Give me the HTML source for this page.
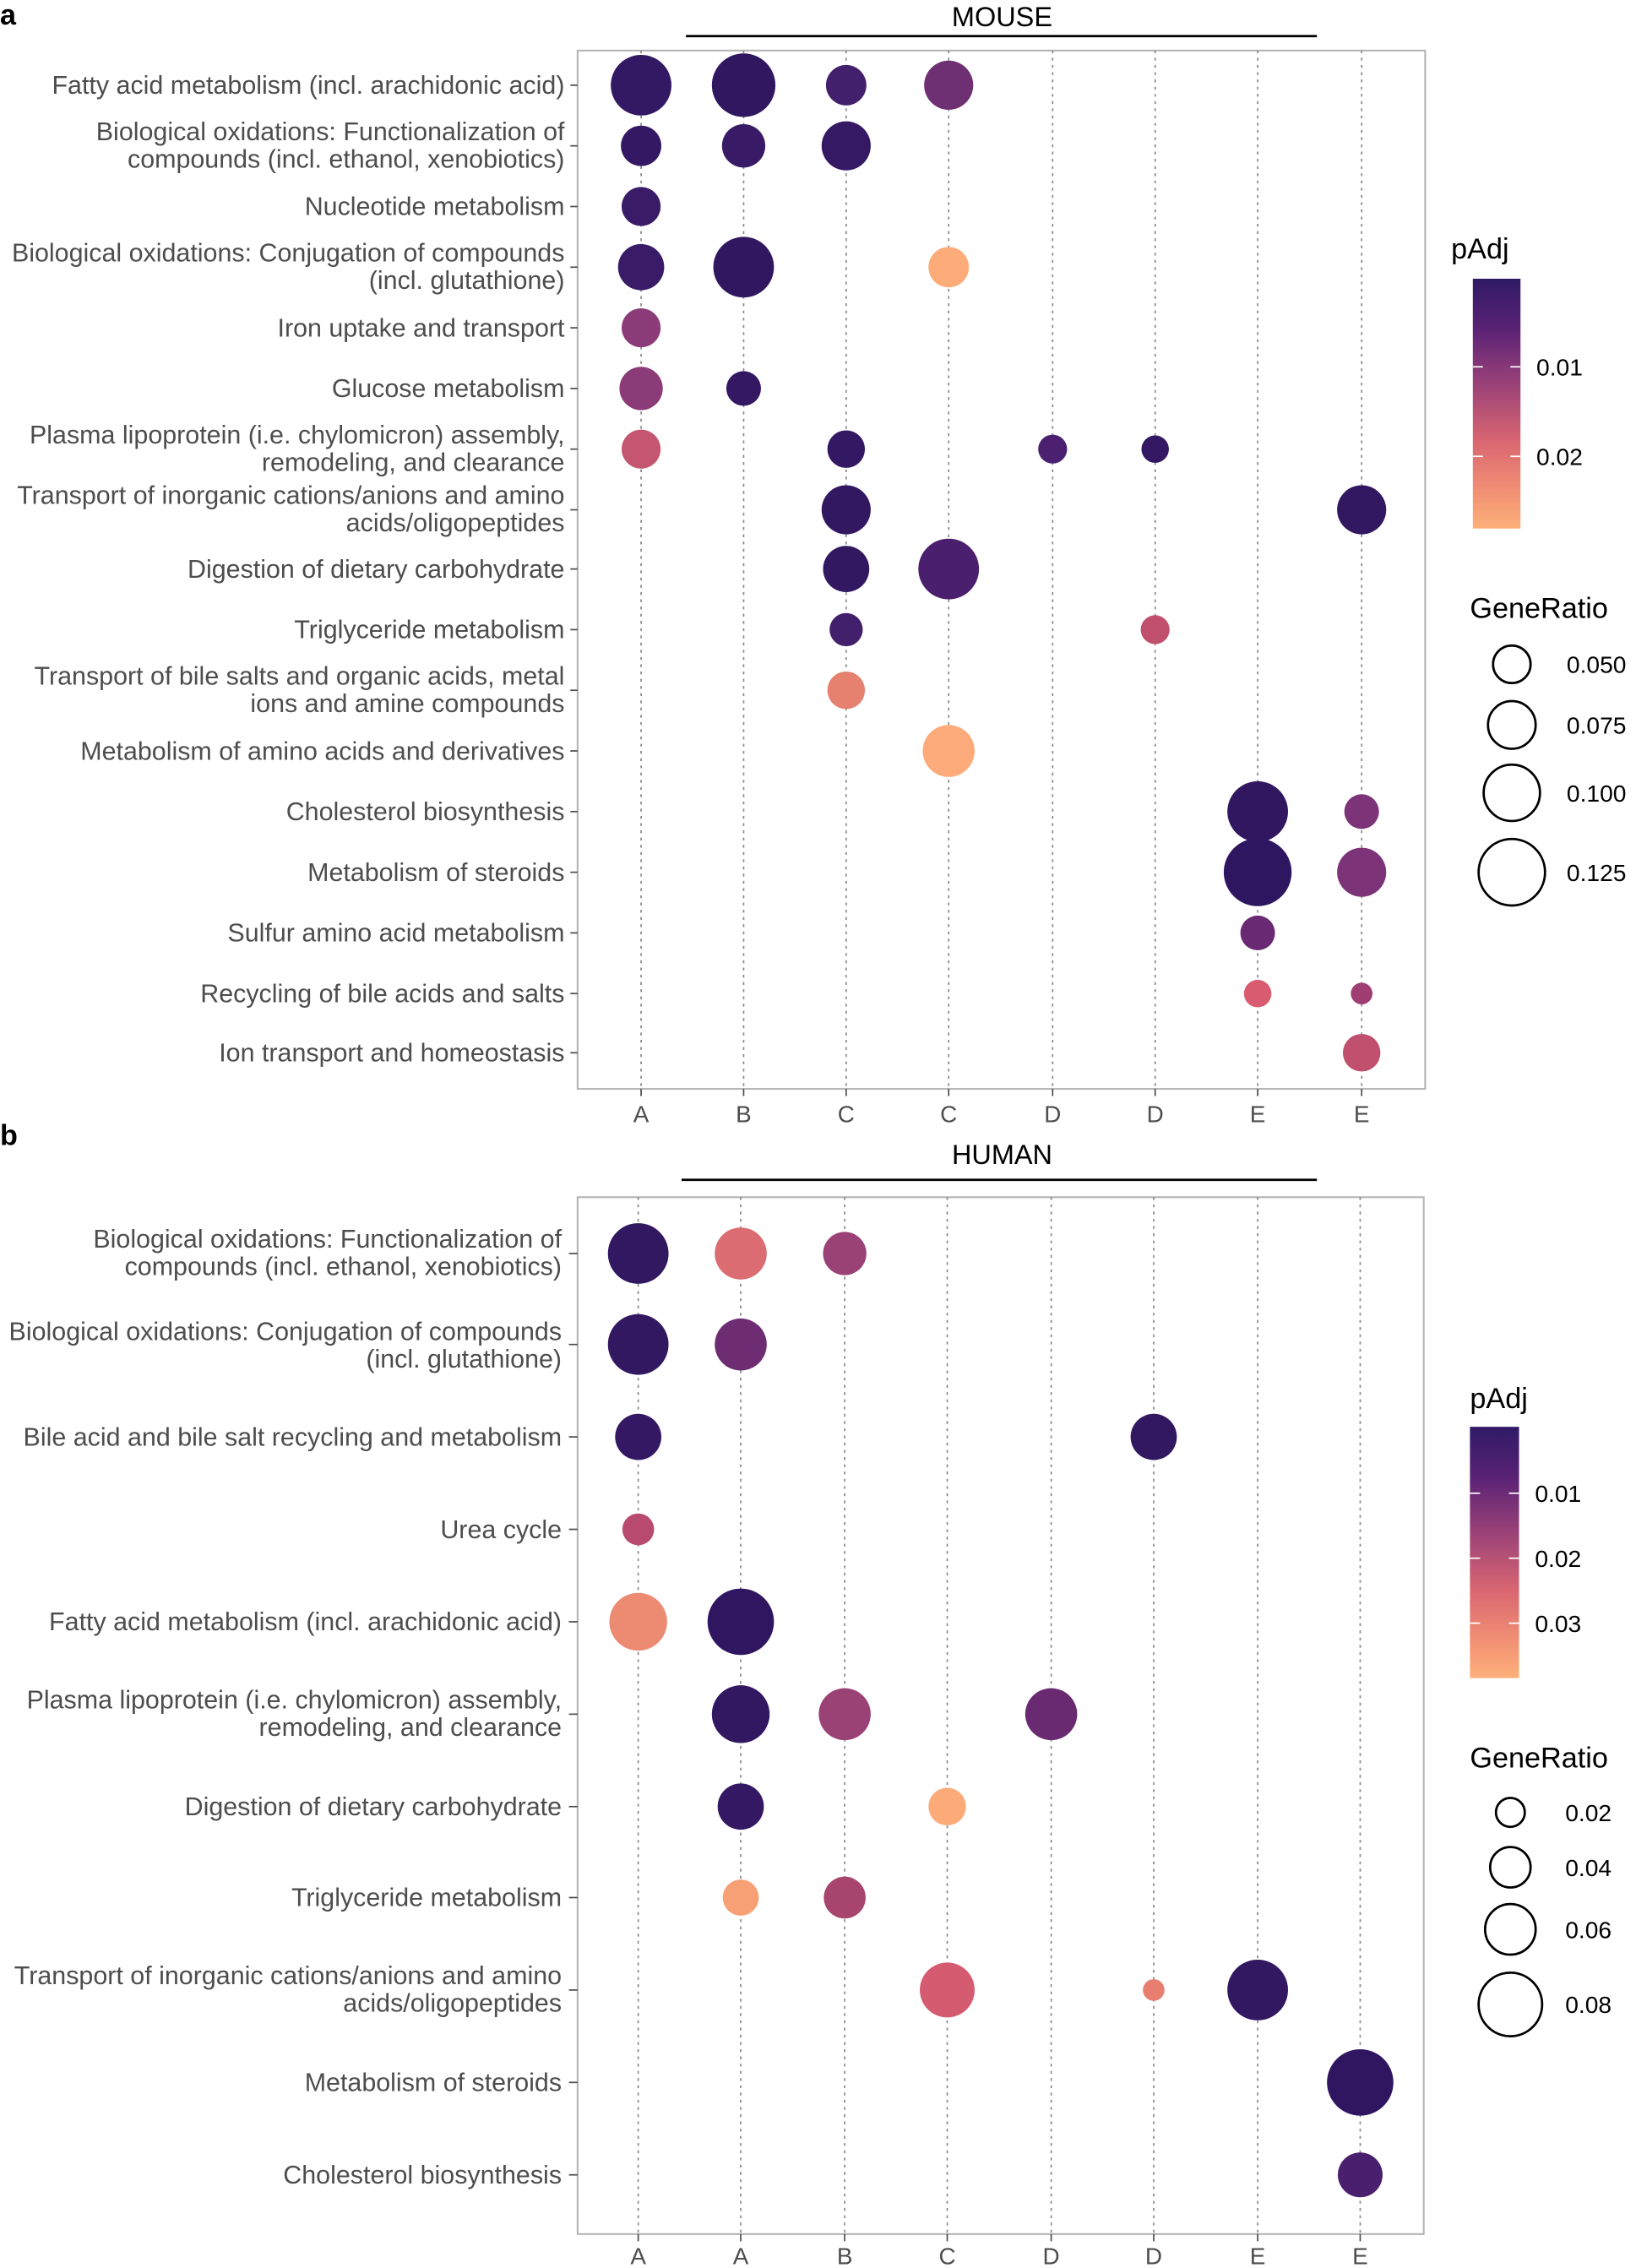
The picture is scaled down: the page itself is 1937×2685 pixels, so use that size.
<!DOCTYPE html>
<html><head><meta charset="utf-8"><style>
html,body{margin:0;padding:0;background:#fff;}
svg{display:block;}
text{font-family:"Liberation Sans",sans-serif;}
.lab{font-size:17.8px;fill:#4d4d4d;text-anchor:end;}
.tick{font-size:16.3px;fill:#4d4d4d;text-anchor:middle;}
.leg{font-size:16.5px;fill:#000;}
.lt{font-size:20px;fill:#000;}
.grid{stroke:#8a8a8a;stroke-width:1;stroke-dasharray:2,3;}
</style></head><body>
<svg width="1937" height="2685" viewBox="0 0 1133 1570.5" preserveAspectRatio="none" xmlns="http://www.w3.org/2000/svg">
<defs>
<linearGradient id="mg" x1="0" y1="0" x2="0" y2="1">
<stop offset="0" stop-color="#2f1a66"/>
<stop offset="0.2" stop-color="#5a2275"/>
<stop offset="0.42" stop-color="#9a4178"/>
<stop offset="0.65" stop-color="#d96671"/>
<stop offset="0.85" stop-color="#f19074"/>
<stop offset="1" stop-color="#fdb07a"/>
</linearGradient>
</defs>
<rect width="1133" height="1571" fill="#fff"/>

<!-- ===== Panel a ===== -->
<text x="0" y="17" style="font-size:20px;font-weight:bold">a</text>
<text x="694" y="18" text-anchor="middle" style="font-size:19px;fill:#000">MOUSE</text>
<line x1="475" y1="25" x2="912" y2="25" stroke="#000" stroke-width="1.6"/>
<rect x="400" y="35" width="587" height="719" fill="none" stroke="#b3b3b3" stroke-width="1.2"/>
<g class="grid">
<line x1="444" y1="35" x2="444" y2="754"/><line x1="515" y1="35" x2="515" y2="754"/>
<line x1="586" y1="35" x2="586" y2="754"/><line x1="657" y1="35" x2="657" y2="754"/>
<line x1="729" y1="35" x2="729" y2="754"/><line x1="800" y1="35" x2="800" y2="754"/>
<line x1="871" y1="35" x2="871" y2="754"/><line x1="943" y1="35" x2="943" y2="754"/>
</g>
<g stroke="#4d4d4d" stroke-width="1">
<line x1="395" y1="59" x2="400" y2="59"/><line x1="395" y1="101" x2="400" y2="101"/><line x1="395" y1="143" x2="400" y2="143"/>
<line x1="395" y1="185" x2="400" y2="185"/><line x1="395" y1="227" x2="400" y2="227"/><line x1="395" y1="269" x2="400" y2="269"/>
<line x1="395" y1="311" x2="400" y2="311"/><line x1="395" y1="353" x2="400" y2="353"/><line x1="395" y1="394" x2="400" y2="394"/>
<line x1="395" y1="436" x2="400" y2="436"/><line x1="395" y1="478" x2="400" y2="478"/><line x1="395" y1="520" x2="400" y2="520"/>
<line x1="395" y1="562" x2="400" y2="562"/><line x1="395" y1="604" x2="400" y2="604"/><line x1="395" y1="646" x2="400" y2="646"/>
<line x1="395" y1="688" x2="400" y2="688"/><line x1="395" y1="729" x2="400" y2="729"/>
<line x1="444" y1="754" x2="444" y2="759"/><line x1="515" y1="754" x2="515" y2="759"/><line x1="586" y1="754" x2="586" y2="759"/>
<line x1="657" y1="754" x2="657" y2="759"/><line x1="729" y1="754" x2="729" y2="759"/><line x1="800" y1="754" x2="800" y2="759"/>
<line x1="871" y1="754" x2="871" y2="759"/><line x1="943" y1="754" x2="943" y2="759"/>
</g>
<g class="lab">
<text x="391" y="65">Fatty acid metabolism (incl. arachidonic acid)</text>
<text x="391" y="97">Biological oxidations: Functionalization of</text>
<text x="391" y="116">compounds (incl. ethanol, xenobiotics)</text>
<text x="391" y="149">Nucleotide metabolism</text>
<text x="391" y="181">Biological oxidations: Conjugation of compounds</text>
<text x="391" y="200">(incl. glutathione)</text>
<text x="391" y="233">Iron uptake and transport</text>
<text x="391" y="275">Glucose metabolism</text>
<text x="391" y="307">Plasma lipoprotein (i.e. chylomicron) assembly,</text>
<text x="391" y="326">remodeling, and clearance</text>
<text x="391" y="349">Transport of inorganic cations/anions and amino</text>
<text x="391" y="368">acids/oligopeptides</text>
<text x="391" y="400">Digestion of dietary carbohydrate</text>
<text x="391" y="442">Triglyceride metabolism</text>
<text x="391" y="474">Transport of bile salts and organic acids, metal</text>
<text x="391" y="493">ions and amine compounds</text>
<text x="391" y="526">Metabolism of amino acids and derivatives</text>
<text x="391" y="568">Cholesterol biosynthesis</text>
<text x="391" y="610">Metabolism of steroids</text>
<text x="391" y="652">Sulfur amino acid metabolism</text>
<text x="391" y="694">Recycling of bile acids and salts</text>
<text x="391" y="735">Ion transport and homeostasis</text>
</g>
<g class="tick">
<text x="444" y="777">A</text><text x="515" y="777">B</text><text x="586" y="777">C</text><text x="657" y="777">C</text>
<text x="729" y="777">D</text><text x="800" y="777">D</text><text x="871" y="777">E</text><text x="943" y="777">E</text>
</g>
<g>
<circle cx="444" cy="59" r="21" fill="#331863"/><circle cx="515" cy="59" r="22" fill="#311760"/>
<circle cx="586" cy="59" r="14" fill="#43206c"/><circle cx="657" cy="59" r="17" fill="#6e2f73"/>
<circle cx="444" cy="101" r="14" fill="#341863"/><circle cx="515" cy="101" r="15" fill="#381a66"/><circle cx="586" cy="101" r="17" fill="#361965"/>
<circle cx="444" cy="143" r="13.5" fill="#3a1b67"/>
<circle cx="444" cy="185" r="16" fill="#3a1b67"/><circle cx="515" cy="185" r="21" fill="#301760"/><circle cx="657" cy="185" r="14" fill="#fcab79"/>
<circle cx="444" cy="227" r="13.5" fill="#8b3b78"/>
<circle cx="444" cy="269" r="15" fill="#8b3b78"/><circle cx="515" cy="269" r="12" fill="#341863"/>
<circle cx="444" cy="311" r="13.5" fill="#c4566f"/><circle cx="586" cy="311" r="13" fill="#341863"/>
<circle cx="729" cy="311" r="10" fill="#4b2070"/><circle cx="800" cy="311" r="9.5" fill="#351864"/>
<circle cx="586" cy="353" r="17" fill="#321761"/><circle cx="943" cy="353" r="17" fill="#321761"/>
<circle cx="586" cy="394" r="16" fill="#321761"/><circle cx="657" cy="394" r="21" fill="#4a1f6e"/>
<circle cx="586" cy="436" r="11.5" fill="#43206c"/><circle cx="800" cy="436" r="10" fill="#c0506e"/>
<circle cx="586" cy="478" r="13" fill="#e6806f"/>
<circle cx="657" cy="520" r="18" fill="#fdab7a"/>
<circle cx="871" cy="562" r="21" fill="#311760"/><circle cx="943" cy="562" r="12" fill="#7d3377"/>
<circle cx="871" cy="604" r="23.5" fill="#2f1660"/><circle cx="943" cy="604" r="17" fill="#7d3377"/>
<circle cx="871" cy="646" r="12" fill="#6a2a73"/>
<circle cx="871" cy="688" r="9.5" fill="#d95b70"/><circle cx="943" cy="688" r="7.5" fill="#a03d72"/>
<circle cx="943" cy="729" r="13" fill="#c0506e"/>
</g>
<text x="1005" y="179" class="lt">pAdj</text>
<rect x="1020" y="193" width="33" height="173" fill="url(#mg)"/>
<g stroke="#fff" stroke-width="1"><line x1="1020" y1="254" x2="1027" y2="254"/><line x1="1046" y1="254" x2="1053" y2="254"/>
<line x1="1020" y1="316" x2="1027" y2="316"/><line x1="1046" y1="316" x2="1053" y2="316"/></g>
<text x="1064" y="260" class="leg">0.01</text><text x="1064" y="322" class="leg">0.02</text>
<text x="1018" y="428" class="lt">GeneRatio</text>
<g fill="none" stroke="#000" stroke-width="1.6">
<circle cx="1047" cy="460" r="13"/><circle cx="1047" cy="502" r="16.5"/><circle cx="1047" cy="549" r="19.5"/><circle cx="1047" cy="604" r="23"/></g>
<text x="1085" y="466" class="leg">0.050</text><text x="1085" y="508" class="leg">0.075</text>
<text x="1085" y="555" class="leg">0.100</text><text x="1085" y="610" class="leg">0.125</text>

<!-- ===== Panel b ===== -->
<text x="0" y="793" style="font-size:20px;font-weight:bold">b</text>
<text x="694" y="806" text-anchor="middle" style="font-size:19px;fill:#000">HUMAN</text>
<line x1="472" y1="817" x2="912" y2="817" stroke="#000" stroke-width="1.6"/>
<rect x="400" y="829" width="586" height="718" fill="none" stroke="#b3b3b3" stroke-width="1.2"/>
<g class="grid">
<line x1="442" y1="829" x2="442" y2="1547"/><line x1="513" y1="829" x2="513" y2="1547"/>
<line x1="585" y1="829" x2="585" y2="1547"/><line x1="656" y1="829" x2="656" y2="1547"/>
<line x1="728" y1="829" x2="728" y2="1547"/><line x1="799" y1="829" x2="799" y2="1547"/>
<line x1="871" y1="829" x2="871" y2="1547"/><line x1="942" y1="829" x2="942" y2="1547"/>
</g>
<g stroke="#4d4d4d" stroke-width="1">
<line x1="394" y1="868" x2="400" y2="868"/><line x1="394" y1="931" x2="400" y2="931"/><line x1="394" y1="995" x2="400" y2="995"/>
<line x1="394" y1="1059" x2="400" y2="1059"/><line x1="394" y1="1123" x2="400" y2="1123"/><line x1="394" y1="1187" x2="400" y2="1187"/>
<line x1="394" y1="1251" x2="400" y2="1251"/><line x1="394" y1="1314" x2="400" y2="1314"/><line x1="394" y1="1378" x2="400" y2="1378"/>
<line x1="394" y1="1442" x2="400" y2="1442"/><line x1="394" y1="1506" x2="400" y2="1506"/>
<line x1="442" y1="1547" x2="442" y2="1552"/><line x1="513" y1="1547" x2="513" y2="1552"/><line x1="585" y1="1547" x2="585" y2="1552"/>
<line x1="656" y1="1547" x2="656" y2="1552"/><line x1="728" y1="1547" x2="728" y2="1552"/><line x1="799" y1="1547" x2="799" y2="1552"/>
<line x1="871" y1="1547" x2="871" y2="1552"/><line x1="942" y1="1547" x2="942" y2="1552"/>
</g>
<g class="lab">
<text x="389" y="864">Biological oxidations: Functionalization of</text>
<text x="389" y="883">compounds (incl. ethanol, xenobiotics)</text>
<text x="389" y="928">Biological oxidations: Conjugation of compounds</text>
<text x="389" y="947">(incl. glutathione)</text>
<text x="389" y="1001">Bile acid and bile salt recycling and metabolism</text>
<text x="389" y="1065">Urea cycle</text>
<text x="389" y="1129">Fatty acid metabolism (incl. arachidonic acid)</text>
<text x="389" y="1183">Plasma lipoprotein (i.e. chylomicron) assembly,</text>
<text x="389" y="1202">remodeling, and clearance</text>
<text x="389" y="1257">Digestion of dietary carbohydrate</text>
<text x="389" y="1320">Triglyceride metabolism</text>
<text x="389" y="1374">Transport of inorganic cations/anions and amino</text>
<text x="389" y="1393">acids/oligopeptides</text>
<text x="389" y="1448">Metabolism of steroids</text>
<text x="389" y="1512">Cholesterol biosynthesis</text>
</g>
<g class="tick">
<text x="442" y="1568">A</text><text x="513" y="1568">A</text><text x="585" y="1568">B</text><text x="656" y="1568">C</text>
<text x="728" y="1568">D</text><text x="799" y="1568">D</text><text x="871" y="1568">E</text><text x="942" y="1568">E</text>
</g>
<g>
<circle cx="442" cy="868" r="21" fill="#321761"/><circle cx="513" cy="868" r="18" fill="#da6c72"/><circle cx="585" cy="868" r="15" fill="#9a4175"/>
<circle cx="442" cy="931" r="21" fill="#321761"/><circle cx="513" cy="931" r="18" fill="#6e2d73"/>
<circle cx="442" cy="995" r="16" fill="#341863"/><circle cx="799" cy="995" r="16" fill="#321761"/>
<circle cx="442" cy="1059" r="11" fill="#b84a70"/>
<circle cx="442" cy="1123" r="20" fill="#ec8a72"/><circle cx="513" cy="1123" r="23" fill="#301660"/>
<circle cx="513" cy="1187" r="20" fill="#321761"/><circle cx="585" cy="1187" r="18" fill="#9a4175"/><circle cx="728" cy="1187" r="18" fill="#6a2a72"/>
<circle cx="513" cy="1251" r="16" fill="#341863"/><circle cx="656" cy="1251" r="13" fill="#fcaa78"/>
<circle cx="513" cy="1314" r="12.5" fill="#f8a075"/><circle cx="585" cy="1314" r="14.5" fill="#a8456f"/>
<circle cx="656" cy="1378" r="19" fill="#d45b70"/><circle cx="799" cy="1378" r="7.5" fill="#e77e6f"/><circle cx="871" cy="1378" r="21" fill="#321761"/>
<circle cx="942" cy="1442" r="23" fill="#301660"/>
<circle cx="942" cy="1506" r="15.5" fill="#4a1f6e"/>
</g>
<text x="1018" y="975" class="lt">pAdj</text>
<rect x="1018" y="988" width="34" height="174" fill="url(#mg)"/>
<g stroke="#fff" stroke-width="1"><line x1="1018" y1="1034" x2="1025" y2="1034"/><line x1="1045" y1="1034" x2="1052" y2="1034"/>
<line x1="1018" y1="1079" x2="1025" y2="1079"/><line x1="1045" y1="1079" x2="1052" y2="1079"/>
<line x1="1018" y1="1124" x2="1025" y2="1124"/><line x1="1045" y1="1124" x2="1052" y2="1124"/></g>
<text x="1063" y="1040" class="leg">0.01</text><text x="1063" y="1085" class="leg">0.02</text><text x="1063" y="1130" class="leg">0.03</text>
<text x="1018" y="1224" class="lt">GeneRatio</text>
<g fill="none" stroke="#000" stroke-width="1.6">
<circle cx="1046" cy="1255" r="10"/><circle cx="1046" cy="1293" r="14"/><circle cx="1046" cy="1336" r="17.5"/><circle cx="1046" cy="1388" r="22"/></g>
<text x="1084" y="1261" class="leg">0.02</text><text x="1084" y="1299" class="leg">0.04</text>
<text x="1084" y="1342" class="leg">0.06</text><text x="1084" y="1394" class="leg">0.08</text>
</svg>
</body></html>
